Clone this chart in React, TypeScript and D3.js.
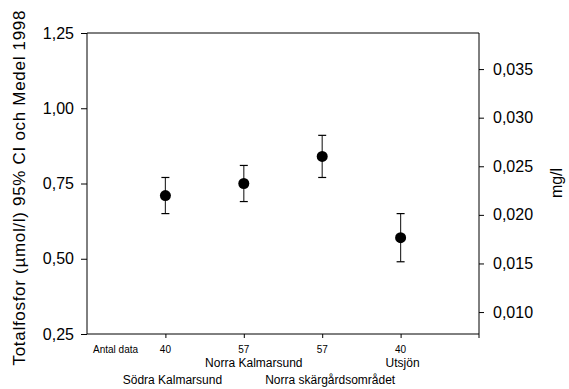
import { useEffect, useRef } from "react";
import * as d3 from "d3";

const categories = ["Södra Kalmarsund", "Norra Kalmarsund", "Norra skärgårdsområdet", "Utsjön"];
const counts = [40, 57, 57, 40];
const means = [0.71, 0.75, 0.84, 0.57];
const ciLow = [0.65, 0.69, 0.77, 0.49];
const ciHigh = [0.77, 0.81, 0.91, 0.65];
const leftTicks = [0.25, 0.5, 0.75, 1.0, 1.25];
const rightTicks = [0.01, 0.015, 0.02, 0.025, 0.03, 0.035];
// µmol/l -> mg/l for phosphorus
const molarMass = 30.97 / 1000;

const W = 569;
const H = 389;

export default function App() {
  const svgRef = useRef<SVGSVGElement>(null);

  useEffect(() => {
    if (!svgRef.current) return;
    const svg = d3.select(svgRef.current);
    svg.selectAll("*").remove();

    const margin = { top: 33, right: 90, bottom: 55, left: 87 };
    const chartW = W - margin.left - margin.right;
    const chartH = H - margin.top - margin.bottom;
    const font = "'Liberation Sans', Arial, sans-serif";
    const comma = (f: string) => (d: number) => d3.format(f)(d).replace(".", ",");

    const x = d3.scaleLinear().domain([0, 5]).range([0, chartW]);
    const y = d3.scaleLinear().domain([0.25, 1.25]).range([chartH, 0]);
    const y2 = d3
      .scaleLinear()
      .domain([0.25 * molarMass, 1.25 * molarMass])
      .range([chartH, 0]);

    const g = svg
      .append("g")
      .attr("transform", `translate(${margin.left},${margin.top})`);

    // frame
    g.append("line")
      .attr("x1", 0).attr("x2", chartW).attr("y1", 0).attr("y2", 0)
      .attr("stroke", "#000");
    g.append("line")
      .attr("x1", chartW).attr("x2", chartW).attr("y1", 0).attr("y2", chartH + 4)
      .attr("stroke", "#000");

    // left axis
    const left = g
      .append("g")
      .call(d3.axisLeft(y).tickValues(leftTicks).tickFormat(comma(".2f")).tickSize(6).tickPadding(7));
    left.select(".domain").attr("d", `M0,${chartH}V0`);

    // right axis
    const right = g
      .append("g")
      .attr("transform", `translate(${chartW},0)`)
      .call(d3.axisRight(y2).tickValues(rightTicks).tickFormat(comma(".3f")).tickSize(5).tickPadding(9));
    right.select(".domain").remove();

    // bottom axis
    const bottom = g
      .append("g")
      .attr("transform", `translate(0,${chartH})`)
      .call(d3.axisBottom(x).tickValues([1, 2, 3, 4]).tickFormat(() => "").tickSize(4));
    bottom.select(".domain").attr("d", `M0,0H${chartW}`);

    svg.selectAll(".tick text").attr("font-family", font).attr("font-size", 16).attr("fill", "#000");
    svg.selectAll(".domain, .tick line").attr("stroke", "#000");

    // error bars
    const eb = g.append("g");
    categories.forEach((_, i) => {
      const cx = x(i + 1);
      eb.append("line")
        .attr("x1", cx).attr("x2", cx)
        .attr("y1", y(ciLow[i])).attr("y2", y(ciHigh[i]))
        .attr("stroke", "#333").attr("stroke-width", 1.2);
      [ciLow[i], ciHigh[i]].forEach((v) => {
        eb.append("line")
          .attr("x1", cx - 4).attr("x2", cx + 4)
          .attr("y1", y(v)).attr("y2", y(v))
          .attr("stroke", "#000").attr("stroke-width", 1.2);
      });
    });

    g.selectAll("circle.pt")
      .data(means)
      .join("circle")
      .attr("cx", (_, i) => x(i + 1))
      .attr("cy", (d) => y(d))
      .attr("r", 5.5)
      .attr("fill", "#000");

    // x labels (the original labels sit a little right of their ticks)
    const labelShift = [7, 10, 8, 2];
    const labels = g.append("g").attr("font-family", font).attr("fill", "#000");
    labels.append("text")
      .attr("x", 6).attr("y", chartH + 19)
      .attr("font-size", 10)
      .text("Antal data");
    labels.selectAll("text.n")
      .data(counts)
      .join("text")
      .attr("class", "n")
      .attr("x", (_, i) => x(i + 1))
      .attr("y", chartH + 19)
      .attr("text-anchor", "middle")
      .attr("font-size", 10)
      .text((d) => d);
    labels.selectAll("text.cat")
      .data(categories)
      .join("text")
      .attr("class", "cat")
      .attr("x", (_, i) => x(i + 1) + labelShift[i])
      .attr("y", (_, i) => chartH + (i % 2 === 1 ? 33 : 50))
      .attr("text-anchor", "middle")
      .attr("font-size", 12)
      .text((d) => d);

    // axis titles
    svg.append("text")
      .attr("transform", `translate(25,188) rotate(-90)`)
      .attr("text-anchor", "middle")
      .attr("font-family", font)
      .attr("font-size", 17)
      .attr("textLength", 355)
      .attr("lengthAdjust", "spacing")
      .attr("fill", "#000")
      .text("Totalfosfor (µmol/l) 95% CI och Medel 1998");
    svg.append("text")
      .attr("transform", `translate(562,183) rotate(-90)`)
      .attr("text-anchor", "middle")
      .attr("font-family", font)
      .attr("font-size", 16)
      .attr("fill", "#000")
      .text("mg/l");
  }, []);

  return (
    <svg
      ref={svgRef}
      width={W}
      height={H}
      style={{ position: "absolute", left: 0, top: 0, background: "#fff" }}
    />
  );
}
